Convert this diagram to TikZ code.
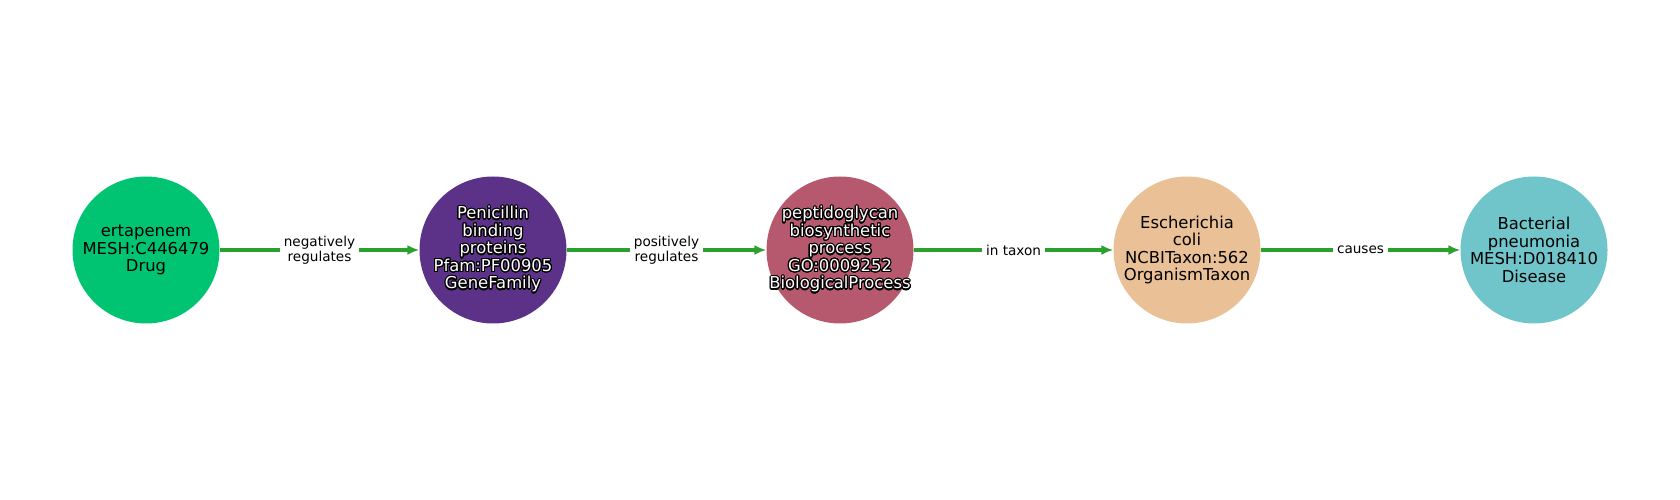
\documentclass[tikz,border=0pt]{standalone}
\usepackage{fontspec}
\setmainfont{DejaVu Sans}
\usepackage[copies]{contour}
\contourlength{1.1pt}
\contournumber{24}
\usetikzlibrary{arrows.meta}
\definecolor{drugcol}{RGB}{0,196,114}
\definecolor{genecol}{RGB}{91,50,135}
\definecolor{proccol}{RGB}{183,89,110}
\definecolor{taxcol}{RGB}{234,192,150}
\definecolor{discol}{RGB}{112,197,202}
\definecolor{edgecol}{RGB}{44,160,44}
\newcommand{\outl}[1]{\contour{black}{#1}}
\tikzset{
  ent/.style={circle,minimum size=147pt,inner sep=-40pt,align=center,
    font=\fontsize{16.4}{17.5}\selectfont},
  rel/.style={draw=edgecol,line width=3.5pt,-{Latex[length=12pt,width=10pt]}},
  lbl/.style={fill=white,inner sep=4pt,align=center,
    font=\fontsize{13.6}{15}\selectfont}
}
\begin{document}
\begin{tikzpicture}[x=1pt,y=1pt]
\useasboundingbox (0,0) rectangle (1680,500);
\node[ent,fill=drugcol] (drug) at (146,250) {ertapenem\\MESH:C446479\\Drug};
\node[ent,fill=genecol,text=white] (gene) at (493,250) {\outl{Penicillin}\\\outl{binding}\\\outl{proteins}\\\outl{Pfam:PF00905}\\\outl{GeneFamily}};
\node[ent,fill=proccol,text=white] (proc) at (840,250) {\outl{peptidoglycan}\\\outl{biosynthetic}\\\outl{process}\\\outl{GO:0009252}\\\outl{BiologicalProcess}};
\node[ent,fill=taxcol] (tax) at (1187,250) {Escherichia\\coli\\NCBITaxon:562\\OrganismTaxon};
\node[ent,fill=discol] (dis) at (1534,250) {Bacterial\\pneumonia\\MESH:D018410\\Disease};
\draw[rel] (drug) -- node[lbl]{negatively\\regulates} (gene);
\draw[rel] (gene) -- node[lbl]{positively\\regulates} (proc);
\draw[rel] (proc) -- node[lbl]{in taxon} (tax);
\draw[rel] (tax) -- node[lbl]{causes} (dis);
\end{tikzpicture}
\end{document}
